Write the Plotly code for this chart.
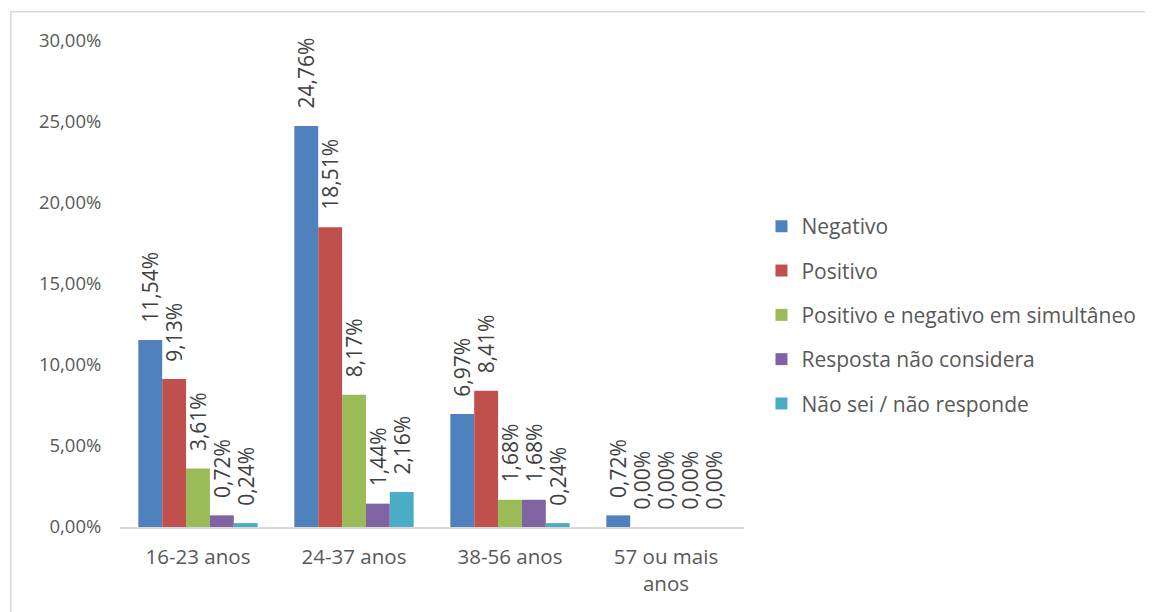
import plotly.graph_objects as go

categories = ["16-23 anos", "24-37 anos", "38-56 anos", "57 ou mais<br>anos"]

negativo = [0.1154, 0.2476, 0.0697, 0.0072]
positivo = [0.0913, 0.1851, 0.0841, 0.0000]
simultaneo = [0.0361, 0.0817, 0.0168, 0.0000]
nao_considera = [0.0072, 0.0144, 0.0168, 0.0000]
nao_sei = [0.0024, 0.0216, 0.0024, 0.0000]

series = [
    ("Negativo", negativo, "#4F81BD"),
    ("Positivo", positivo, "#C0504D"),
    ("Positivo e negativo em simultâneo", simultaneo, "#9BBB59"),
    ("Resposta não considera", nao_considera, "#8064A2"),
    ("Não sei / não responde", nao_sei, "#4BACC6"),
]

font_family = "'Open Sans', sans-serif"

fig = go.Figure()
for name, values, color in series:
    # leading spaces leave a gap between the bar top and the rotated label
    fig.add_trace(go.Bar(x=categories, y=values, name=name, legendgroup=name,
                         marker=dict(color=color, line=dict(width=0)),
                         texttemplate="\u00a0\u00a0\u2009%{y:.2%}",
                         textposition="outside",
                         textangle=-90,
                         constraintext="none",
                         cliponaxis=False,
                         textfont=dict(size=21, color="#404040", family=font_family)))

# light grey frame around the whole chart, like the Excel chart area
fig.add_shape(type="rect", xref="paper", yref="paper",
              x0=-0.175, x1=1.68, y0=-0.2, y1=1.06,
              line=dict(color="#D9D9D9", width=1.5), fillcolor="rgba(0,0,0,0)", layer="below")

# page body has an 8px margin, so the figure is a bit smaller than the window
fig.update_layout(
    width=1145, height=604,
    margin=dict(l=112, r=405, t=33, b=85),
    paper_bgcolor="white", plot_bgcolor="white",
    barmode="group", bargap=0.235, bargroupgap=0,
    separators=",.",
    font=dict(family=font_family, size=18, color="#595959"),
    showlegend=True,
    legend=dict(x=1.028, y=0.436, xanchor="left", yanchor="middle",
                font=dict(size=21, color="#595959"),
                tracegroupgap=14, itemwidth=30, bgcolor="rgba(0,0,0,0)"),
)
fig.update_yaxes(range=[0, 0.30], dtick=0.05, tickformat=".2%",
                 showgrid=False, zeroline=False, showline=False,
                 ticks="outside", ticklen=14, tickcolor="rgba(0,0,0,0)",
                 tickfont=dict(size=18.5, color="#595959"))
fig.update_xaxes(showline=True, linecolor="#D9D9D9", linewidth=1.5,
                 ticks="outside", ticklen=11, tickcolor="rgba(0,0,0,0)",
                 tickfont=dict(size=20.5, color="#595959"))

fig.write_html("out.html")
